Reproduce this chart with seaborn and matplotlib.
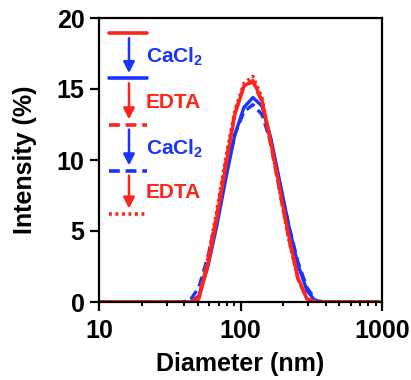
import numpy as np
import pandas as pd
import matplotlib
matplotlib.use("Agg")
import matplotlib.pyplot as plt
import seaborn as sns

# Diameter bins (nm)
diameter = [10.1, 11.7, 13.6, 15.7, 18.2, 21.0, 24.4, 28.2, 32.7, 37.8, 43.8,
            50.7, 58.8, 68.1, 78.8, 91.3, 105.7, 122.4, 141.8, 164.2, 190.1,
            220.2, 255.0, 295.3, 342.0, 396.1, 458.7, 531.2, 615.1, 712.4, 825.0, 955.4]

red_solid = [0]*11 + [0.2, 2.6, 5.9, 9.6, 13.2, 15.2, 15.6, 14.2, 11.2, 7.9, 4.6, 1.7, 0.2, 0, 0, 0, 0, 0, 0, 0, 0]
blue_solid = [0]*11 + [0.4, 2.5, 5.4, 8.7, 11.8, 13.7, 14.4, 13.8, 11.5, 8.4, 5.3, 2.6, 0.8, 0, 0, 0, 0, 0, 0, 0, 0]
red_dashed = [0]*11 + [0.3, 2.9, 6.2, 9.9, 13.3, 15.2, 15.5, 14.1, 11.0, 7.7, 4.4, 1.6, 0.2, 0, 0, 0, 0, 0, 0, 0, 0]
blue_dashed = [0]*10 + [0.1, 1.0, 3.2, 6.0, 9.0, 11.8, 13.4, 13.9, 13.2, 11.2, 8.3, 5.3, 2.8, 1.0, 0.1, 0, 0, 0, 0, 0, 0, 0]
red_dotted = [0]*11 + [0.3, 3.1, 6.5, 10.2, 13.5, 15.4, 15.9, 14.4, 11.2, 7.7, 4.3, 1.6, 0.2, 0, 0, 0, 0, 0, 0, 0, 0]

RED = "#ff2419"
BLUE = "#1a34ff"

sns.set_theme(style="ticks")
plt.rcParams['font.family'] = ['Liberation Sans', 'DejaVu Sans']
plt.rcParams['font.weight'] = 'bold'
plt.rcParams['mathtext.fontset'] = 'custom'
plt.rcParams['mathtext.bf'] = 'Liberation Sans:bold'
plt.rcParams['mathtext.rm'] = 'Liberation Sans:bold'
for k in ['text.color', 'axes.labelcolor', 'xtick.color', 'ytick.color', 'axes.edgecolor']:
    plt.rcParams[k] = 'black'

fig = plt.figure(figsize=(4.11, 3.80), dpi=100)
ax = fig.add_axes([99/411, 78/380, 283/411, 284/380])

DASH = (0, (3, 1.6))
DOT = (0, (0.8, 1.0))
series = [
    (blue_dashed, BLUE, DASH),
    (blue_solid, BLUE, '-'),
    (red_dashed, RED, DASH),
    (red_solid, RED, '-'),
    (red_dotted, RED, DOT),
]
for vals, col, ls in series:
    df = pd.DataFrame({"d": diameter, "v": vals})
    sns.lineplot(data=df, x="d", y="v", ax=ax, color=col, linestyle=ls, lw=2.4)

ax.set_xscale('log')
ax.set_xlim(10, 1000)
ax.set_ylim(0, 20)
ax.set_yticks([0, 5, 10, 15, 20])
ax.set_xticks([10, 100, 1000])
ax.set_xticklabels(['10', '100', '1000'])
ax.set_yticklabels(['0', '5', '10', '15', '20'])
ax.set_xlabel('Diameter (nm)', fontsize=18, fontweight='bold', labelpad=6, color='black')
ax.set_ylabel('Intensity (%)', fontsize=18, fontweight='bold', labelpad=14, color='black')
ax.tick_params(axis='both', which='major', labelsize=18, length=6.5, width=1.6, direction='out',
               color='black', labelcolor='black')
ax.tick_params(axis='y', which='major', pad=4)
ax.tick_params(axis='x', which='major', pad=6)
ax.tick_params(axis='x', which='minor', length=3, width=1.4, direction='out', color='black')
for lab in ax.get_xticklabels() + ax.get_yticklabels():
    lab.set_fontweight('bold')
for s in ax.spines.values():
    s.set_linewidth(1.6)
    s.set_color('black')

# annotation legend
tr = ax.transAxes
x0, x1, xa = 0.035, 0.17, 0.106
lines_y = [0.947, 0.788, 0.625, 0.463, 0.311]
styles = [(RED, '-'), (BLUE, '-'), (RED, DASH), (BLUE, DASH), (RED, DOT)]
for yy, (c, ls) in zip(lines_y, styles):
    ax.plot([x0, x1], [yy, yy], transform=tr, color=c, linestyle=ls, lw=2.6, clip_on=False)
arrow_cols = [BLUE, RED, BLUE, RED]
texts = ['CaCl$_\\mathbf{2}$', 'EDTA', 'CaCl$_\\mathbf{2}$', 'EDTA']
for i in range(4):
    ya, yb = lines_y[i] - 0.018, lines_y[i + 1] + 0.018
    ax.annotate('', xy=(xa, yb), xytext=(xa, ya), xycoords=tr, textcoords=tr,
                arrowprops=dict(arrowstyle='-|>,head_length=0.55,head_width=0.28', color=arrow_cols[i],
                                lw=1.8, shrinkA=0, shrinkB=0))
    ax.text(0.165, (lines_y[i] + lines_y[i + 1]) / 2 - 0.003, texts[i], transform=tr, color=arrow_cols[i],
            fontsize=15, fontweight='bold', va='center', ha='left')

fig.savefig('out.png', dpi=100)
